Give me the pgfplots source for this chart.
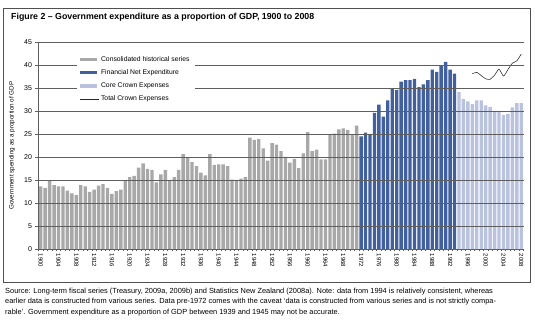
\documentclass[border=0pt]{standalone}
\usepackage{fontspec}
\setmainfont{Liberation Sans}
\usepackage{pgfplots}
\pgfplotsset{compat=1.18}
\definecolor{histgray}{RGB}{168,168,168}
\definecolor{fnblue}{RGB}{66,96,156}
\definecolor{coreblue}{RGB}{186,195,222}
\definecolor{gridgray}{RGB}{95,95,95}
\definecolor{framegray}{RGB}{80,80,80}
\begin{document}
\begin{tikzpicture}[x=1pt,y=1pt]
\useasboundingbox (0,0) rectangle (535,323);
\draw[framegray, line width=0.7pt] (3,41) rectangle (530,315);
\node[anchor=west, inner sep=0, font=\bfseries\fontsize{8.8}{9.5}\selectfont] at (11,306) {Figure 2 – Government expenditure as a proportion of GDP, 1900 to 2008};
\begin{axis}[
  at={(38.5pt,74pt)}, anchor=south west, scale only axis,
  width=485pt, height=207pt,
  xmin=1899.5, xmax=2008.5, ymin=0, ymax=45,
  axis lines*=left, axis on top,
  axis line style={gridgray, line width=0.7pt},
  ymajorgrids, grid style={gridgray, line width=0.7pt},
  ytick={0,5,...,45},
  xtick={1900,1904,...,2008},
  minor xtick={1899.5,1900.5,...,2008.5},
  tick align=outside, major tick length=3pt, minor tick length=2.5pt,
  every major x tick/.append style={draw=none},
  tick style={gridgray, line width=0.5pt},
  /pgf/number format/assume math mode=true,
  /pgf/number format/1000 sep={},
  yticklabel style={font=\fontsize{7}{8}\selectfont},
  xticklabel style={rotate=-90, anchor=west, font=\fontsize{6}{7}\selectfont, inner sep=1.5pt},
  ylabel={Government spending as a proportion of GDP},
  y label style={at={(axis description cs:-0.0546,0.5)}, anchor=center, font=\fontsize{6.3}{7}\selectfont},
  legend style={at={(axis description cs:0.078,0.957)}, anchor=north west, fill=white, draw=none,
    font=\fontsize{6.8}{7.5}\selectfont, row sep=2.9pt, inner xsep=3pt, inner ysep=3pt},
  legend cell align=left,
]
\addplot[ybar, bar shift=0pt, bar width=0.76, fill=histgray, draw=none,
  legend image code/.code={\fill[histgray] (0pt,-1.8pt) rectangle (17pt,1.8pt);}] coordinates {
(1900,13.6)(1901,13.3)(1902,14.9)(1903,13.9)(1904,13.6)(1905,13.6)(1906,12.7)(1907,12.1)(1908,11.7)(1909,13.9)
(1910,13.6)(1911,12.4)(1912,12.9)(1913,13.8)(1914,14.1)(1915,13.3)(1916,12.0)(1917,12.6)(1918,12.9)(1919,14.9)
(1920,15.6)(1921,15.9)(1922,17.7)(1923,18.6)(1924,17.4)(1925,17.2)(1926,14.5)(1927,16.2)(1928,17.2)(1929,15.0)
(1930,15.6)(1931,17.2)(1932,20.6)(1933,19.9)(1934,18.9)(1935,18.0)(1936,16.6)(1937,16.0)(1938,20.6)(1939,18.3)
(1940,18.4)(1941,18.4)(1942,18.0)(1943,15.1)(1944,15.0)(1945,15.3)(1946,15.6)(1947,24.2)(1948,23.7)(1949,23.9)
(1950,21.9)(1951,19.2)(1952,23.0)(1953,22.7)(1954,21.3)(1955,20.0)(1956,18.8)(1957,19.6)(1958,17.6)(1959,20.8)
(1960,25.4)(1961,21.3)(1962,21.6)(1963,19.5)(1964,19.5)(1965,24.9)(1966,25.1)(1967,26.0)(1968,26.2)(1969,25.9)
(1970,24.9)(1971,26.8)};
\addlegendentry{Consolidated historical series}
\addplot[ybar, bar shift=0pt, bar width=0.76, fill=fnblue, draw=none,
  legend image code/.code={\fill[fnblue] (0pt,-1.8pt) rectangle (17pt,1.8pt);}] coordinates {
(1972,24.5)(1973,25.3)(1974,25.0)(1975,29.6)(1976,31.4)(1977,28.8)(1978,32.3)(1979,34.9)(1980,34.6)(1981,36.4)
(1982,36.7)(1983,36.7)(1984,37.0)(1985,35.2)(1986,35.8)(1987,36.7)(1988,39.0)(1989,38.5)(1990,39.9)(1991,40.7)
(1992,39.0)(1993,38.1)};
\addlegendentry{Financial Net Expenditure}
\addplot[ybar, bar shift=0pt, bar width=0.76, fill=coreblue, draw=none,
  legend image code/.code={\fill[coreblue] (0pt,-1.8pt) rectangle (17pt,1.8pt);}] coordinates {
(1994,34.1)(1995,32.6)(1996,32.1)(1997,31.5)(1998,32.3)(1999,32.3)(2000,31.2)(2001,30.9)(2002,30.0)(2003,30.0)
(2004,29.1)(2005,29.4)(2006,30.8)(2007,31.7)(2008,31.7)};
\addlegendentry{Core Crown Expenses}
\addplot[black!85, line width=0.55pt, smooth, tension=0.4, mark=none,
  legend image code/.code={\draw[black!85, line width=0.55pt] (0pt,0pt) -- (19pt,0pt);}] coordinates {
(1997,38.1)(1998,38.4)(1999,37.7)(2000,37.0)(2001,36.9)(2002,37.8)(2003,39.1)(2004,37.6)(2005,39.0)(2006,40.4)(2007,40.9)(2008,42.4)};
\addlegendentry{Total Crown Expenses}
\end{axis}
\node[anchor=north west, inner sep=0, align=left, font=\fontsize{7.4}{10.6}\selectfont] at (5,35.5) {Source: Long-term fiscal series (Treasury, 2009a, 2009b) and Statistics New Zealand (2008a). Note: data from 1994 is relatively consistent, whereas\\earlier data is constructed from various series. Data pre-1972 comes with the caveat ‘data is constructed from various series and is not strictly compa-\\rable’. Government expenditure as a proportion of GDP between 1939 and 1945 may not be accurate.};
\end{tikzpicture}
\end{document}
